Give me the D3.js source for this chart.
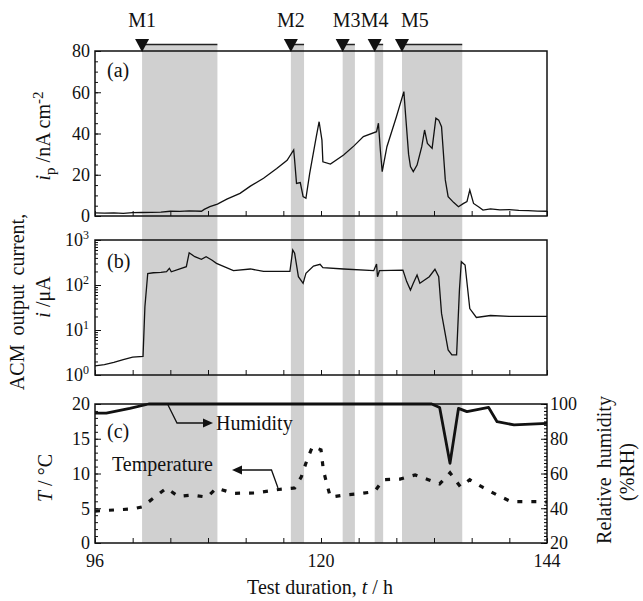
<!DOCTYPE html>
<html>
<head>
<meta charset="utf-8">
<script src="https://cdn.jsdelivr.net/npm/d3@7"></script>
<style>
  body { margin: 0; background: #fff; }
  svg text { font-family: "Liberation Serif", "Times New Roman", "DejaVu Serif", serif; fill: #111; }
</style>
</head>
<body>
<div id="chart"></div>
<script>
// wet/dry periods (h)
const shadeStart = [101, 116.8, 122.3, 125.7, 128.6];
const shadeEnd = [109, 118.2, 123.6, 126.6, 135];
const markerLabels = ["M1", "M2", "M3", "M4", "M5"];

// (a) corrosion current density, nA cm-2
const ipHours = [96, 97, 98, 99, 100, 101, 102, 103, 104, 105, 106, 107.3, 107.6, 108.2, 109, 110, 111.4, 112.5, 113.9, 115.3, 116.4, 117.1, 117.2, 117.4, 117.8, 118.1, 118.4, 118.8, 119.5, 119.8, 120.1, 120.2, 121.0, 122.4, 123.5, 124.5, 125.9, 126.1, 126.3, 126.5, 127, 128, 128.8, 129.0, 129.3, 129.5, 129.8, 130.2, 130.7, 131.0, 131.3, 131.8, 132.2, 132.5, 132.8, 133.2, 133.5, 134.1, 134.6, 135.1, 135.5, 135.8, 136.2, 136.8, 137.2, 138, 139, 140, 141, 142, 143, 144];
const ipValues = [1.5, 1.4, 1.5, 1.3, 1.6, 1.7, 1.8, 1.9, 2.3, 2.2, 2.5, 2.3, 3.2, 4.5, 5.8, 8.2, 11, 14.5, 18.3, 23, 27, 32, 27, 15.8, 16.2, 9.4, 8.6, 20.7, 38.5, 45.7, 36.8, 26.3, 25.2, 29.6, 34, 38.5, 40.9, 45, 32, 21.5, 33.6, 48, 60.3, 48, 30, 24, 21.5, 24.7, 33.6, 41.7, 35.2, 32.8, 47.4, 46.5, 43.3, 17.5, 9.4, 6.5, 4.5, 6, 7, 12.6, 6.1, 4.2, 2.9, 3.5, 3.0, 3.1, 2.7, 2.6, 2.4, 2.3];

// (b) ACM output current, uA (log)
const iHours = [96, 97, 98, 99, 100, 101.1, 101.3, 101.6, 102.2, 103.0, 103.6, 103.9, 104.1, 105.7, 106.0, 106.6, 107.3, 107.8, 108.4, 108.9, 110.7, 112.5, 113.9, 116.7, 117.0, 117.2, 117.6, 118.1, 118.4, 119.2, 119.9, 120.2, 122.4, 125.6, 125.9, 126.0, 126.2, 128.7, 129.1, 129.5, 129.8, 130.2, 130.5, 131.0, 131.5, 132.1, 132.5, 132.8, 133.5, 133.9, 134.4, 134.7, 134.9, 135.3, 135.8, 136.5, 138, 140, 142, 144];
const iValues = [1.6, 1.7, 1.9, 2.2, 2.5, 2.6, 33, 180, 187, 190, 197, 235, 197, 255, 520, 425, 372, 425, 360, 303, 208, 227, 201, 201, 600, 507, 153, 109, 182, 264, 288, 242, 227, 208, 293, 153, 208, 215, 119, 77, 109, 167, 109, 129, 153, 223, 153, 23.4, 3.6, 2.8, 2.8, 77, 330, 278, 30, 19, 21, 20, 20, 20];

// (c) relative humidity, %RH
const rhHours = [96, 97.2, 99.7, 101.7, 131.75, 132.6, 133.7, 134.6, 135.5, 137.8, 138.7, 140.5, 144];
const rhValues = [94.8, 94.8, 97.5, 100, 100, 98, 65.9, 97.5, 95.6, 98, 89.8, 88, 88.9];

// (c) temperature, degC
const tHours = [96, 100, 101, 103.6, 104.85, 106.3, 107.9, 108.9, 110.7, 113, 115.5, 117.2, 117.9, 118.5, 119.1, 120.0, 120.25, 120.6, 121, 122.4, 124.1, 125.7, 126.6, 128.4, 130, 131.4, 132.6, 133.7, 134.8, 135.8, 137.2, 138.7, 140.2, 143.6, 144];
const tValues = [4.6, 4.9, 5.2, 7.9, 6.7, 6.9, 6.6, 7.9, 7.15, 7.2, 7.7, 7.9, 9.5, 11.9, 13.9, 13.4, 10.5, 8.6, 6.6, 6.9, 7.1, 7.4, 9.1, 9.2, 9.8, 9.1, 8.5, 10.1, 8.1, 9.1, 8.0, 6.9, 5.95, 5.95, 5.9];

const W = 643, H = 601;
const FONT = "Liberation Serif";
const svg = d3.select("#chart").append("svg").attr("width", W).attr("height", H)
    .attr("font-family", FONT);

const x = d3.scaleLinear().domain([96, 144]).range([95, 547]);
const ya = d3.scaleLinear().domain([0, 80]).range([216, 51]);
const yb = d3.scaleLog().domain([1, 1000]).range([375, 240]);
const yc = d3.scaleLinear().domain([0, 20]).range([543, 404]);
const yr = d3.scaleLinear().domain([20, 100]).range([543, 404]);

// shaded periods spanning all panels
const shades = d3.range(shadeStart.length).map(i => ({s: shadeStart[i], e: shadeEnd[i], label: markerLabels[i]}));
svg.selectAll("rect.shade").data(shades).join("rect")
    .attr("class", "shade")
    .attr("x", d => x(d.s)).attr("width", d => x(d.e) - x(d.s))
    .attr("y", 45).attr("height", 543 - 45)
    .attr("fill", "#d0d0d0");

// markers
svg.selectAll("line.mk").data(shades).join("line")
    .attr("x1", d => x(d.s)).attr("x2", d => x(d.e))
    .attr("y1", 44.5).attr("y2", 44.5)
    .attr("stroke", "#222").attr("stroke-width", 1.5);
svg.selectAll("path.tri").data(shades).join("path")
    .attr("d", d => `M${x(d.s) - 7},39 L${x(d.s) + 7},39 L${x(d.s)},52 Z`)
    .attr("fill", "#111");
// labels nudged so that M3..M5 don't collide
const labelNudge = {M3: 4, M5: 13};
svg.selectAll("text.mk").data(shades).join("text")
    .attr("x", d => x(d.s) + (labelNudge[d.label] || 0)).attr("y", 27)
    .attr("text-anchor", "middle").attr("font-size", 20).attr("font-family", FONT)
    .text(d => d.label);

function frame(top, bottom) {
    svg.append("rect").attr("x", 95).attr("y", top).attr("width", 547 - 95).attr("height", bottom - top)
        .attr("fill", "none").attr("stroke", "#111").attr("stroke-width", 1.5);
}
function bottomTicks(yPos, withLabels) {
    const g = svg.append("g").attr("transform", `translate(0,${yPos})`)
        .call(d3.axisBottom(x).tickValues(d3.range(96, 145, 4)).tickSize(-5).tickFormat(""));
    g.select(".domain").remove();
    g.selectAll("line").attr("stroke", "#111");
    if (withLabels) {
        svg.selectAll("text.xl").data([96, 120, 144]).join("text")
            .attr("x", d => x(d)).attr("y", yPos + 24)
            .attr("text-anchor", "middle").attr("font-size", 18).attr("font-family", FONT)
            .text(d => d);
    }
}
function leftAxis(scale, major, minor, labels) {
    const ax = d3.axisLeft(scale).tickValues(major).tickSize(-6).tickPadding(5);
    if (!labels) ax.tickFormat("");
    const g = svg.append("g").attr("transform", "translate(95,0)").call(ax);
    g.attr("font-family", FONT).attr("font-size", 18);
    g.select(".domain").remove();
    g.selectAll("text").attr("fill", "#111");
    g.selectAll("line").attr("stroke", "#111");
    const m = svg.append("g").attr("transform", "translate(95,0)")
        .call(d3.axisLeft(scale).tickValues(minor).tickSize(-3).tickFormat(""));
    m.select(".domain").remove();
    m.selectAll("line").attr("stroke", "#111");
}

// panel (a)
const lineA = d3.line().x((d, i) => x(ipHours[i])).y(d => ya(d));
svg.append("path").datum(ipValues).attr("d", lineA)
    .attr("fill", "none").attr("stroke", "#111").attr("stroke-width", 1.3);
frame(51, 216);
leftAxis(ya, [0, 20, 40, 60, 80], d3.range(0, 81, 5), true);
bottomTicks(216, false);
svg.append("text").attr("x", 107).attr("y", 77).attr("font-size", 20).attr("font-family", FONT).text("(a)");

// panel (b)
const lineB = d3.line().x((d, i) => x(iHours[i])).y(d => yb(d));
svg.append("path").datum(iValues).attr("d", lineB)
    .attr("fill", "none").attr("stroke", "#111").attr("stroke-width", 1.3);
frame(240, 375);
const bMinor = [];
[1, 10, 100].forEach(dec => { for (let k = 2; k <= 9; k++) bMinor.push(dec * k); });
leftAxis(yb, [1, 10, 100, 1000], bMinor, false);
svg.selectAll("text.bl").data([0, 1, 2, 3]).join("text")
    .attr("x", 89).attr("y", d => yb(Math.pow(10, d)) + 6)
    .attr("text-anchor", "end").attr("font-size", 18).attr("font-family", FONT)
    .each(function(d) {
        const t = d3.select(this);
        t.append("tspan").text("10");
        t.append("tspan").attr("dy", -7).attr("font-size", 12).text(d);
    });
bottomTicks(375, false);
svg.append("text").attr("x", 107).attr("y", 268).attr("font-size", 20).attr("font-family", FONT).text("(b)");

// panel (c)
const lineRH = d3.line().x((d, i) => x(rhHours[i])).y(d => yr(d));
svg.append("path").datum(rhValues).attr("d", lineRH)
    .attr("fill", "none").attr("stroke", "#111").attr("stroke-width", 2.8).attr("stroke-linejoin", "round");
const lineT = d3.line().x((d, i) => x(tHours[i])).y(d => yc(d));
svg.append("path").datum(tValues).attr("d", lineT)
    .attr("fill", "none").attr("stroke", "#111").attr("stroke-width", 3.2)
    .attr("stroke-dasharray", "5,9");
frame(404, 543);
leftAxis(yc, [0, 5, 10, 15, 20], d3.range(0, 21, 1), true);
const gr = svg.append("g").attr("transform", "translate(547,0)")
    .call(d3.axisRight(yr).tickValues([20, 40, 60, 80, 100]).tickSize(-6).tickPadding(3));
gr.attr("font-family", FONT).attr("font-size", 18);
gr.select(".domain").remove();
gr.selectAll("text").attr("fill", "#111");
gr.selectAll("line").attr("stroke", "#111");
const grm = svg.append("g").attr("transform", "translate(547,0)")
    .call(d3.axisRight(yr).tickValues(d3.range(20, 101, 2)).tickSize(-3).tickFormat(""));
grm.select(".domain").remove();
bottomTicks(543, true);
svg.append("text").attr("x", 107).attr("y", 438).attr("font-size", 20).attr("font-family", FONT).text("(c)");

// annotations
svg.append("path").attr("d", "M168,405 L177,423 L205,423").attr("fill", "none").attr("stroke", "#111").attr("stroke-width", 1.3);
svg.append("path").attr("d", "M213,423 L203,418.5 L203,427.5 Z").attr("fill", "#111");
svg.append("text").attr("x", 216).attr("y", 430).attr("font-size", 20).attr("font-family", FONT).text("Humidity");
svg.append("path").attr("d", "M278,488 L271.5,470 L240,470").attr("fill", "none").attr("stroke", "#111").attr("stroke-width", 1.3);
svg.append("path").attr("d", "M232,470 L242,465.5 L242,474.5 Z").attr("fill", "#111");
svg.append("text").attr("x", 112).attr("y", 471).attr("font-size", 20).attr("font-family", FONT).text("Temperature");

// axis titles
function vText(xp, yp, size) {
    return svg.append("text").attr("transform", `translate(${xp},${yp}) rotate(-90)`)
        .attr("text-anchor", "middle").attr("font-size", size).attr("font-family", FONT);
}
const ta = vText(50, 136, 20);
ta.append("tspan").attr("font-style", "italic").text("i");
ta.append("tspan").attr("dy", 5).attr("font-size", 15).text("p");
ta.append("tspan").attr("dy", -5).text(" /nA cm");
ta.append("tspan").attr("dy", -7).attr("font-size", 15).text("-2");

vText(24, 302, 20).attr("word-spacing", 4).text("ACM output current,");
const tb = vText(50, 297, 20);
tb.append("tspan").attr("font-style", "italic").text("i");
tb.append("tspan").text(" /\u03bcA");

const tc = vText(52, 478, 20);
tc.append("tspan").attr("font-style", "italic").text("T");
tc.append("tspan").text(" / \u00b0C");

vText(611, 470, 20).attr("word-spacing", 4).text("Relative humidity");
vText(634, 472, 20).text("(%RH)");

const tx = svg.append("text").attr("x", 320).attr("y", 594).attr("text-anchor", "middle").attr("font-size", 20).attr("font-family", FONT);
tx.append("tspan").text("Test duration,  ");
tx.append("tspan").attr("font-style", "italic").text("t");
tx.append("tspan").text(" / h");
</script>
</body>
</html>
